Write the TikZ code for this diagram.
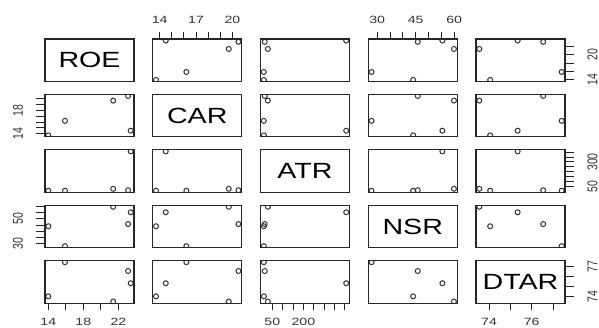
\documentclass[tikz,border=0pt]{standalone}
\usepackage{fontspec}
\setmainfont{Liberation Sans}
\usepackage{tikz}
\usetikzlibrary{calc}

\begin{document}
\begin{tikzpicture}[x=1pt,y=-1pt,
  panel/.style={draw=black!85, line width=1.1pt},
  obs/.style={draw=black!80, line width=1pt},
  tick/.style={draw=black!85, line width=0.9pt},
  ticklab/.style={font=\fontsize{10.5}{12}\selectfont, text=black!80, inner sep=0pt, xscale=1.35},
  varname/.style={font=\fontsize{22}{24}\selectfont, inner sep=0pt, xscale=1.3}]
\useasboundingbox (0,0) rectangle (599,328);
% axis limits (range widened by 4%) and the five rows of data
\def\lo{{13.624,13.428,-7.44,26.516,73.3852}}
\def\rg{{10.152,7.344,430.38,34.668,4.1796}}
\def\dat{{23.4,14.5,407,55.4,75.34, 23.1,20.5,13,45.8,76.54, 21.4,19.7,28,59.9,73.54, 15.9,16.2,8.5,27.8,77.41, 14.0,13.7,9,44.0,74.05}}
\def\pw{89}
\def\ph{42.5}

% panels
\foreach \i in {0,...,4}
\foreach \j in {0,...,4}
{
\pgfmathsetmacro\px{45+107.75*\j}
\pgfmathsetmacro\py{39+55.4*\i}
\ifnum\i=\j\else
\begin{scope}
\clip (\px,\py) rectangle ++(\pw,\ph);
\foreach \k in {0,...,4}
{
\pgfmathsetmacro\xx{\px+(\dat[5*\k+\j]-\lo[\j])/\rg[\j]*\pw}
\pgfmathsetmacro\yy{\py+\ph-(\dat[5*\k+\i]-\lo[\i])/\rg[\i]*\ph}
\draw[obs] (\xx,\yy) circle[radius=2.5pt];
}
\end{scope}
\fi
\draw[panel] (\px,\py) rectangle ++(\pw,\ph);
}

\foreach \i/\nm in {0/ROE,1/CAR,2/ATR,3/NSR,4/DTAR}
\node[varname] (\nm) at ({45+107.75*\i+\pw/2},{39+55.4*\i+\ph/2}) {\nm};

% top and bottom axes
\foreach \j/\yb/\dy/\yl/\a/\b/\e/\labs in {1/39/-7/19.5/14/15/20/{14,17,20},
  3/39/-7/19.5/30/35/60/{30,45,60}, 0/303.1/7/321.5/14/16/22/{14,18,22},
  2/303.1/7/321.5/50/100/400/{50,200}, 4/303.1/7/321.5/74/75/77/{74,76}}
{
\foreach \v in {\a,\b,...,\e}
{
\pgfmathsetmacro\tx{45+107.75*\j+(\v-\lo[\j])/\rg[\j]*\pw}
\draw[tick] (\tx,\yb) -- ++(0,\dy);
}
\pgfmathsetmacro\xa{45+107.75*\j+(\a-\lo[\j])/\rg[\j]*\pw}
\pgfmathsetmacro\xe{45+107.75*\j+(\e-\lo[\j])/\rg[\j]*\pw}
\draw[tick] (\xa,\yb) -- (\xe,\yb);
\foreach \v in \labs
{
\pgfmathsetmacro\tx{45+107.75*\j+(\v-\lo[\j])/\rg[\j]*\pw}
\node[ticklab] (xlab-\j-\v) at (\tx,\yl) {\v};
}
}

% left and right axes
\foreach \i/\xb/\dx/\xl/\a/\b/\e/\labs in {1/45/-9/18/14/15/20/{14,18},
  3/45/-9/18/30/35/60/{30,50}, 0/565/9/592.5/14/16/22/{14,20},
  2/565/9/592.5/50/100/400/{50,300}, 4/565/9/592.5/74/75/77/{74,77}}
{
\foreach \v in {\a,\b,...,\e}
{
\pgfmathsetmacro\ty{39+55.4*\i+\ph-(\v-\lo[\i])/\rg[\i]*\ph}
\draw[tick] (\xb,\ty) -- ++(\dx,0);
}
\pgfmathsetmacro\ya{39+55.4*\i+\ph-(\a-\lo[\i])/\rg[\i]*\ph}
\pgfmathsetmacro\ye{39+55.4*\i+\ph-(\e-\lo[\i])/\rg[\i]*\ph}
\draw[tick] (\xb,\ya) -- (\xb,\ye);
\foreach \v in \labs
{
\pgfmathsetmacro\ty{39+55.4*\i+\ph-(\v-\lo[\i])/\rg[\i]*\ph}
\node[ticklab, rotate=90] (ylab-\i-\v) at (\xl,\ty) {\v};
}
}
\end{tikzpicture}
\end{document}
